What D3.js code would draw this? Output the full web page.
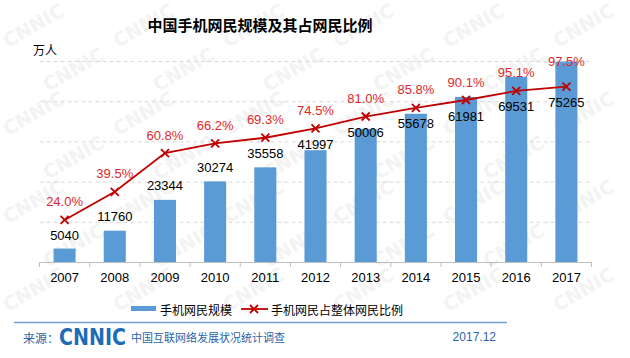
<!DOCTYPE html>
<html><head><meta charset="utf-8">
<script src="https://cdn.jsdelivr.net/npm/d3@7"></script>
<style>body{margin:0;background:#fff;}svg{display:block;}</style>
</head><body>
<svg id="c" width="630" height="358"></svg>
<script>
const years = ["2007","2008","2009","2010","2011","2012","2013","2014","2015","2016","2017"];
const users = [5040,11760,23344,30274,35558,41997,50006,55678,61981,69531,75265];
const ratio = [24.0,39.5,60.8,66.2,69.3,74.5,81.0,85.8,90.1,95.1,97.5];
const title = "中国手机网民规模及其占网民比例";
const unit = "万人";
const legendNames = ["手机网民规模","手机网民占整体网民比例"];
const sourceLabel = "来源：";
const sourceName = "中国互联网络发展状况统计调查";
const dateLabel = "2017.12";

const svg = d3.select("#c");
const cjk = "'Noto Sans CJK SC','Noto Sans',sans-serif";
const num = "'Liberation Sans',Arial,sans-serif";

// watermark (only copies fully inside the canvas)
const wm = svg.append("g");
for (let r = 0; r < 9; r++) {
  for (let c = -1; c < 8; c++) {
    const x = c * 110 + (r % 2) * 40 + 8, y = r * 44 + 48;
    const w = 64;
    if (x < 2 || x + w * 0.87 > 628 || y - w * 0.5 - 15 < 0 || y + 6 > 356) continue;
    wm.append("text").attr("transform", `translate(${x},${y}) rotate(-30)`)
      .attr("font-family", "'DejaVu Sans',sans-serif").attr("font-weight", "bold")
      .attr("font-size", 19).attr("fill", "#f3f3f3").text("CNNIC");
  }
}

const x = d3.scaleBand().domain(years).range([39.5, 591.5]).paddingInner(0).paddingOuter(0);
const y = d3.scaleLinear().domain([0, 75500]).range([262, 61]);
const y2 = d3.scaleLinear().domain([0.8, 111.6]).range([262, 61]);
const barW = x.bandwidth() * 0.44;

// gridlines
const grid = d3.axisLeft(y).tickValues(d3.range(0, 6).map(i => 75500 * i / 5)).tickSize(-552).tickFormat("");
svg.append("g").attr("transform", "translate(39.5,0)").call(grid)
  .call(g => g.select(".domain").remove())
  .call(g => g.selectAll("line").attr("stroke", "#d9d9d9").attr("stroke-dasharray", "4,3"));

// bars
svg.append("g").selectAll("rect").data(years).join("rect")
  .attr("x", d => x(d) + (x.bandwidth() - barW) / 2)
  .attr("y", (d, i) => y(users[i]))
  .attr("width", barW).attr("height", (d, i) => 262 - y(users[i]))
  .attr("fill", "#5B9BD5");

// x axis
const xa = svg.append("g").attr("transform", "translate(0,262)")
  .call(d3.axisBottom(x).tickSize(0).tickPadding(11));
xa.select(".domain").attr("stroke", "#bfbfbf");
xa.selectAll("text").attr("font-family", num).attr("font-size", 13).attr("fill", "#000");
svg.append("g").selectAll("line").data(d3.range(years.length + 1)).join("line")
  .attr("x1", i => 39.5 + i * x.step()).attr("x2", i => 39.5 + i * x.step())
  .attr("y1", 262).attr("y2", 267).attr("stroke", "#bfbfbf");

// line
const cx = d => x(d) + x.bandwidth() / 2;
const line = d3.line().x((d, i) => cx(years[i])).y(d => y2(d));
svg.append("path").datum(ratio).attr("d", line).attr("fill", "none")
  .attr("stroke", "#C00000").attr("stroke-width", 1.8);
const mk = svg.append("g");
ratio.forEach((v, i) => {
  const px = cx(years[i]), py = y2(v), s = 4;
  mk.append("path").attr("d", `M${px - s},${py - s}L${px + s},${py + s}M${px - s},${py + s}L${px + s},${py - s}`)
    .attr("stroke", "#C00000").attr("stroke-width", 1.8);
});

// value labels
svg.append("g").selectAll("text").data(years).join("text")
  .attr("x", d => cx(d))
  .attr("y", (d, i) => Math.max(y(users[i]) - 14, y2(ratio[i]) + 16))
  .attr("text-anchor", "middle").attr("dominant-baseline", "central")
  .attr("font-family", num).attr("font-size", 13).attr("fill", "#000")
  .text((d, i) => users[i]);

// percent labels
svg.append("g").selectAll("text").data(years).join("text")
  .attr("x", d => cx(d))
  .attr("y", (d, i) => Math.min(y2(ratio[i]) - 18, y(users[i])))
  .attr("text-anchor", "middle").attr("dominant-baseline", "central")
  .attr("font-family", num).attr("font-size", 13).attr("fill", "#E0282A")
  .text((d, i) => ratio[i].toFixed(1) + "%");

// title & unit
svg.append("text").attr("x", 260).attr("y", 24).attr("text-anchor", "middle").attr("dominant-baseline", "central")
  .attr("font-family", cjk).attr("font-weight", "bold").attr("font-size", 15).attr("fill", "#000").text(title);
svg.append("text").attr("x", 33).attr("y", 49).attr("dominant-baseline", "central")
  .attr("font-family", cjk).attr("font-size", 12).attr("fill", "#000").text(unit);

// legend
const lg = svg.append("g");
lg.append("rect").attr("x", 131).attr("y", 306).attr("width", 25).attr("height", 5).attr("fill", "#5B9BD5");
lg.append("text").attr("x", 160).attr("y", 309).attr("dominant-baseline", "central")
  .attr("font-family", cjk).attr("font-size", 12).attr("fill", "#000").text(legendNames[0]);
lg.append("line").attr("x1", 241).attr("x2", 268).attr("y1", 309).attr("y2", 309).attr("stroke", "#C00000").attr("stroke-width", 1.8);
lg.append("path").attr("d", "M250,305L258,313M250,313L258,305").attr("stroke", "#C00000").attr("stroke-width", 1.8);
lg.append("text").attr("x", 271).attr("y", 309).attr("dominant-baseline", "central")
  .attr("font-family", cjk).attr("font-size", 12).attr("fill", "#000").text(legendNames[1]);

// footer
svg.append("line").attr("x1", 14).attr("x2", 507).attr("y1", 322.5).attr("y2", 322.5).attr("stroke", "#6fa3d8").attr("stroke-width", 1.5);
svg.append("text").attr("x", 23).attr("y", 337).attr("dominant-baseline", "central")
  .attr("font-family", cjk).attr("font-size", 12).attr("fill", "#2A64A8").text(sourceLabel);
svg.append("text").attr("x", 59).attr("y", 345).attr("textLength", 67).attr("lengthAdjust", "spacingAndGlyphs")
  .attr("font-family", "'DejaVu Sans',sans-serif").attr("font-weight", "bold").attr("font-size", 23)
  .attr("fill", "#1C6DB5").text("CNNIC");
svg.append("text").attr("x", 131).attr("y", 337).attr("dominant-baseline", "central")
  .attr("font-family", cjk).attr("font-size", 11).attr("fill", "#2A64A8").text(sourceName);
svg.append("text").attr("x", 496).attr("y", 337).attr("text-anchor", "end").attr("dominant-baseline", "central")
  .attr("font-family", num).attr("font-size", 12).attr("fill", "#2A64A8").text(dateLabel);
</script>
</body></html>
